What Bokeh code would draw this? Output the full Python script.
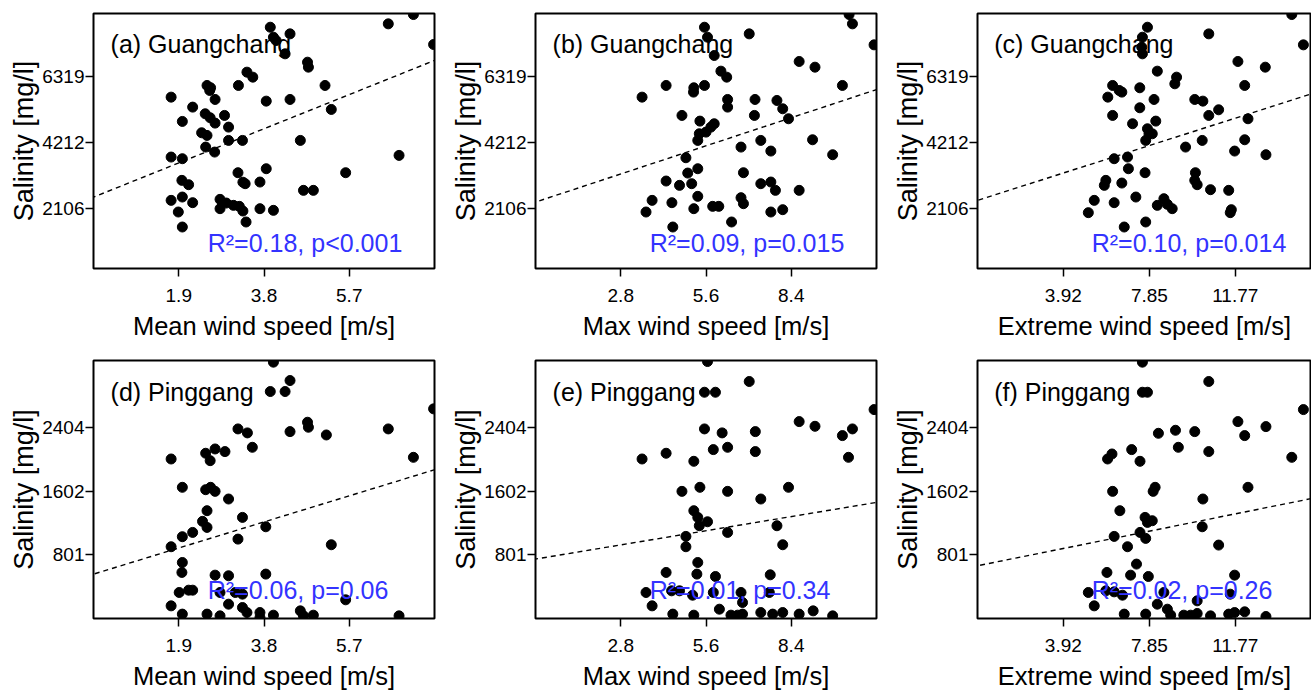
from bokeh.plotting import figure
from bokeh.layouts import column, row
from bokeh.models import FixedTicker, Range1d, Label, Slope, NumeralTickFormatter
from bokeh.embed import file_html
from bokeh.resources import INLINE

# ---------------- data ----------------
a_x = [3.94, 4.01, 4.38, 4.27, 4.07, 6.57, 7.13, 7.58, 4.77, 4.79, 3.42, 3.55, 3.23, 2.53, 2.59, 2.61,
       2.71, 1.73, 3.85, 4.38, 5.16, 5.30, 2.21, 1.98, 2.49, 2.60, 2.71, 2.92, 3.01, 2.41, 2.53, 3.01,
       3.32, 4.61, 2.50, 2.70, 1.73, 1.98, 6.81, 3.22, 3.85, 1.97, 2.12, 3.38, 3.33, 3.71, 5.62, 4.68,
       4.90, 1.73, 1.98, 2.21, 2.82, 2.96, 3.12, 3.25, 3.33, 2.82, 3.71, 4.01, 1.89, 3.40, 1.98]
a_y = [7888, 7570, 7676, 7040, 7464, 7995, 8292, 7337, 6774, 6615, 6456, 6297, 6032, 6032, 5873, 5958,
       5586, 5660, 5533, 5586, 6032, 5268, 5342, 4886, 5130, 5003, 4833, 5077, 4705, 4525, 4440, 4281,
       4281, 4281, 4069, 3910, 3751, 3698, 3804, 3252, 3379, 3008, 2870, 2902, 2950, 2955, 3252, 2690,
       2690, 2371, 2477, 2297, 2403, 2286, 2212, 2180, 2032, 2106, 2106, 2053, 2000, 1682, 1522]

b_x = [5.55, 5.65, 7.02, 5.87, 10.41, 10.30, 11.12, 8.66, 9.18, 6.09, 6.28, 4.29, 5.20, 5.55, 5.19,
       3.50, 10.08, 6.31, 6.31, 7.21, 7.93, 8.12, 4.81, 7.19, 5.40, 5.87, 5.76, 8.31, 5.38, 5.60, 5.33,
       9.10, 7.40, 6.75, 7.73, 4.94, 9.76, 5.33, 5.00, 6.83, 4.29, 4.73, 5.13, 7.40, 7.73, 7.88, 8.66,
       5.33, 6.75, 6.83, 3.83, 4.48, 5.82, 6.02, 5.20, 8.12, 7.73, 3.63, 6.44, 4.51]
b_y = [7888, 7570, 7676, 6987, 7995, 8292, 7326, 6796, 6615, 6488, 6297, 6032, 5958, 6032, 5820,
       5660, 6032, 5586, 5342, 5586, 5554, 5289, 5077, 5077, 4896, 4812, 4705, 4971, 4493, 4546, 4281,
       4302, 4281, 4069, 3942, 3729, 3825, 3379, 3241, 3252, 2987, 2849, 2902, 2902, 2955, 2690, 2690,
       2499, 2456, 2265, 2371, 2297, 2180, 2180, 2106, 2074, 2000, 2000, 1682, 1522]

c_x = [7.76, 7.53, 7.50, 7.53, 10.56, 14.35, 14.88, 11.89, 13.14, 8.21, 9.09, 9.01, 6.17, 6.47, 6.59,
       7.41, 5.95, 12.20, 8.06, 9.92, 10.29, 7.41, 11.01, 6.17, 10.56, 7.08, 8.14, 7.76, 7.83, 7.68,
       7.98, 12.35, 12.20, 10.26, 9.50, 11.74, 13.17, 6.24, 6.85, 6.89, 7.65, 9.95, 9.92, 10.03, 5.86,
       5.79, 6.59, 10.64, 11.47, 7.23, 5.33, 6.24, 8.21, 8.51, 8.67, 8.89, 11.59, 11.54, 5.06, 7.68, 6.70]
c_y = [7888, 7570, 7252, 7040, 7676, 8292, 7326, 6796, 6615, 6488, 6297, 6085, 6032, 5873, 5820,
       5958, 5660, 6032, 5586, 5586, 5533, 5321, 5257, 5077, 5077, 4812, 4896, 4652, 4493, 4281,
       4493, 4971, 4302, 4281, 4069, 3942, 3825, 3698, 3751, 3379, 3252, 3252, 3008, 2870, 3008,
       2849, 2923, 2711, 2690, 2477, 2371, 2297, 2212, 2424, 2244, 2106, 2074, 1979, 1979, 1682, 1522]

d_x = [4.01, 4.38, 3.94, 4.27, 7.58, 4.77, 4.79, 6.57, 4.38, 5.19, 3.22, 3.43, 3.54, 1.73, 2.50, 2.71,
       2.93, 2.60, 7.13, 1.98, 2.50, 2.61, 2.71, 3.01, 2.53, 2.43, 2.53, 3.32, 3.84, 2.21, 1.98, 3.22,
       5.30, 1.73, 1.98, 1.97, 2.71, 3.01, 3.84, 1.91, 2.12, 2.21, 2.82, 3.16, 3.32, 5.62, 1.73, 3.01,
       3.32, 3.42, 1.98, 2.53, 2.82, 3.71, 3.71, 4.01, 4.61, 4.68, 4.90, 6.81]
d_y = [3222, 2991, 2853, 2853, 2635, 2467, 2404, 2383, 2349, 2307, 2383, 2333, 2152, 2005, 2077, 2131,
       2098, 1984, 2026, 1649, 1619, 1649, 1598, 1502, 1355, 1221, 1145, 1271, 1153, 1082, 1028, 998,
       927, 902, 704, 579, 545, 537, 558, 327, 356, 356, 327, 327, 306, 235, 159, 180,
       138, 75, 55, 55, 33, 75, 12, 42, 96, 33, 42, 33]

e_x = [5.65, 7.02, 5.55, 5.91, 11.12, 8.66, 9.18, 10.08, 10.41, 10.28, 5.55, 6.13, 7.22, 7.22, 5.84,
       6.31, 4.29, 3.50, 5.20, 4.81, 5.40, 6.31, 8.31, 7.40, 5.20, 5.33, 5.38, 5.65, 7.93, 6.31, 4.94,
       4.94, 8.12, 5.33, 5.30, 4.29, 5.91, 7.71, 3.63, 4.47, 4.73, 5.16, 5.84, 6.75, 6.80, 3.83, 6.04,
       4.51, 5.20, 6.42, 6.64, 6.80, 7.40, 7.79, 8.12, 8.66, 9.12, 9.76, 7.68]
e_y = [3230, 2979, 2844, 2844, 2626, 2475, 2416, 2299, 2383, 2026, 2383, 2333, 2349, 2098, 2123,
       2152, 2077, 2005, 1976, 1598, 1649, 1598, 1649, 1502, 1355, 1271, 1166, 1216, 1166, 1082, 1032,
       902, 927, 704, 558, 579, 528, 549, 327, 348, 348, 293, 327, 327, 201, 159, 117,
       55, 42, 42, 42, 55, 75, 55, 75, 55, 96, 33, 327]

f_x = [7.53, 10.56, 7.53, 7.76, 14.88, 11.89, 13.17, 12.20, 14.35, 8.26, 9.04, 9.92, 9.17, 10.56, 7.04,
       6.14, 5.94, 7.42, 6.17, 8.11, 8.02, 12.35, 10.29, 6.50, 7.65, 7.76, 7.98, 11.01, 10.26, 7.42,
       7.68, 6.24, 6.85, 7.26, 5.91, 6.99, 7.80, 11.74, 5.06, 5.86, 6.24, 6.62, 8.51, 10.03, 11.54,
       5.33, 8.21, 8.67, 6.70, 7.68, 8.82, 9.42, 9.73, 10.03, 10.64, 11.47, 11.74, 12.20, 13.17]
f_y = [3222, 2979, 2844, 2844, 2626, 2475, 2412, 2299, 2026, 2328, 2366, 2349, 2152, 2098, 2123,
       2068, 2005, 1976, 1598, 1649, 1598, 1649, 1502, 1355, 1271, 1208, 1229, 923, 1153, 1082,
       1007, 1032, 902, 684, 579, 545, 528, 545, 327, 348, 335, 293, 327, 222, 306,
       159, 180, 117, 55, 55, 42, 42, 42, 63, 33, 55, 75, 84, 25]

# regression fits (intercept, slope)
fit_intercepts = [2475, 2316, 2370, 558, 747, 663]
fit_slopes = [573, 320, 222.6, 172.6, 63.6, 55.4]

panel_titles = ["(a) Guangchang", "(b) Guangchang", "(c) Guangchang",
                "(d) Pinggang", "(e) Pinggang", "(f) Pinggang"]
stats_texts = ["R\u00b2=0.18, p<0.001", "R\u00b2=0.09, p=0.015", "R\u00b2=0.10, p=0.014",
               "R\u00b2=0.06, p=0.06", "R\u00b2=0.01, p=0.34", "R\u00b2=0.02, p=0.26"]
x_titles = ["Mean wind speed [m/s]", "Max wind speed [m/s]", "Extreme wind speed [m/s]"]
y_title = "Salinity [mg/l]"

x_ticks = [[1.9, 3.8, 5.7], [2.8, 5.6, 8.4], [3.92, 7.85, 11.77]]
x_fmt = ["0.0", "0.0", "0.00"]
x_ranges = [(0, 7.6), (0, 11.2), (0, 15.25)]
y_ticks = [[2106, 4212, 6319], [801, 1602, 2404]]
y_ranges = [(200, 8325), (0, 3243)]

xs_all = [a_x, b_x, c_x, d_x, e_x, f_x]
ys_all = [a_y, b_y, c_y, d_y, e_y, f_y]

FONT = "Liberation Sans"

figs = []
for i in range(6):
    r, c = divmod(i, 3)
    x0, x1 = x_ranges[c]
    y0, y1 = y_ranges[r]
    fw = 334 if c == 2 else 341
    fh = 255 if r == 0 else 258
    p = figure(frame_width=fw, frame_height=fh,
               x_range=Range1d(x0, x1), y_range=Range1d(y0, y1),
               output_backend="svg", toolbar_location=None,
               min_border_left=93, min_border_right=(0 if c == 2 else 8),
               min_border_top=(13 if r == 0 else 5),
               min_border_bottom=(87 if r == 0 else 73))
    p.grid.visible = False
    p.outline_line_color = "black"
    p.outline_line_width = 2
    p.background_fill_color = "white"
    p.border_fill_color = "white"

    # axes
    for ax in (p.xaxis[0], p.yaxis[0]):
        ax.axis_line_color = None
        ax.major_tick_line_color = "black"
        ax.major_tick_line_width = 1.5
        ax.major_tick_out = 8
        ax.major_tick_in = 0
        ax.minor_tick_line_color = None
        ax.major_label_text_font = FONT
        ax.major_label_text_font_size = "19px"
        ax.major_label_text_color = "black"
        ax.axis_label_text_font = FONT
        ax.axis_label_text_font_style = "normal"
        ax.axis_label_text_color = "black"
    p.xaxis.ticker = FixedTicker(ticks=x_ticks[c])
    p.xaxis.formatter = NumeralTickFormatter(format=x_fmt[c])
    p.xaxis.major_label_standoff = 12
    p.xaxis.axis_label = x_titles[c]
    p.xaxis.axis_label_text_font_size = "25.5px"
    p.xaxis.axis_label_standoff = 7
    p.yaxis.ticker = FixedTicker(ticks=y_ticks[r])
    p.yaxis.formatter = NumeralTickFormatter(format="0")
    p.yaxis.major_label_standoff = 1
    p.yaxis.major_label_orientation = "horizontal"
    p.yaxis.axis_label = y_title
    p.yaxis.axis_label_text_font_size = "27px"
    p.yaxis.axis_label_standoff = 0

    # regression line
    p.add_layout(Slope(gradient=fit_slopes[i], y_intercept=fit_intercepts[i],
                       line_color="black", line_width=1.4, line_dash="5 4"))
    # points
    p.scatter(xs_all[i], ys_all[i], size=10, fill_color="black", line_color="black")

    # panel title
    ty = 0.118 if r == 0 else 0.122
    p.add_layout(Label(x=x0 + 0.05 * (x1 - x0), y=y1 - ty * (y1 - y0), text=panel_titles[i],
                       text_font=FONT, text_font_size="25px", text_color="black",
                       text_baseline="middle", text_align="left"))
    # stats text
    sy = 0.10 if r == 0 else 0.109
    p.add_layout(Label(x=x0 + 0.335 * (x1 - x0) * (341 / fw if c == 2 else 1), y=y0 + sy * (y1 - y0),
                       text=stats_texts[i], text_font=FONT, text_font_size="25px",
                       text_color="#3333ff", text_baseline="middle", text_align="left"))
    figs.append(p)

layout = column(row(figs[0], figs[1], figs[2]), row(figs[3], figs[4], figs[5]))
open("out.html", "w").write(file_html(layout, INLINE))
